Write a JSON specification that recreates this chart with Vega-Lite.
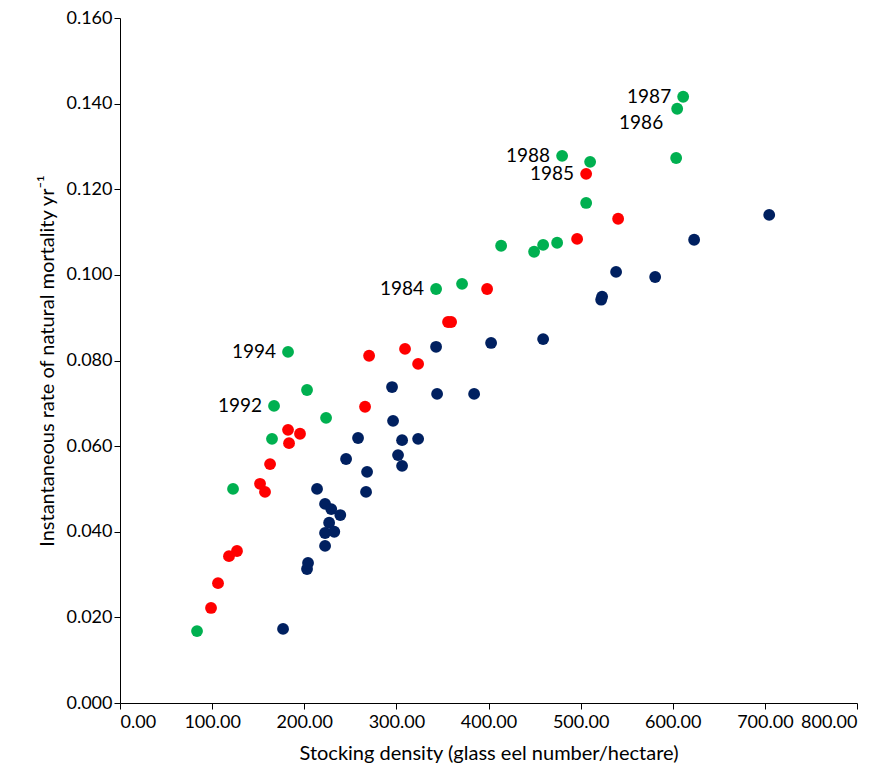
{"$schema":"https://vega.github.io/schema/vega-lite/v6.json","width":737,"height":685,"autosize":"none","padding":{"left":120,"top":18,"right":28,"bottom":78},"background":"white","config":{"view":{"stroke":null},"font":"Lato","axis":{"grid":false,"domainColor":"#000","tickColor":"#000","labelColor":"#000","titleColor":"#000","labelFontSize":18,"titleFontSize":20,"titleFontWeight":"normal","labelFont":"Lato","titleFont":"Lato","tickSize":6}},
"data":{"values":[
{"x":83.6,"y":0.0168,"g":"a"},{"x":122.7,"y":0.05,"g":"a"},{"x":165,"y":0.0617,"g":"a"},{"x":167.2,"y":0.0694,"g":"a","l":"1992"},{"x":182.4,"y":0.082,"g":"a","l":"1994"},{"x":203,"y":0.0731,"g":"a"},{"x":223.7,"y":0.0666,"g":"a"},{"x":343.1,"y":0.0967,"g":"a","l":"1984"},{"x":371.3,"y":0.0979,"g":"a"},{"x":413.7,"y":0.1068,"g":"a"},{"x":449.5,"y":0.1054,"g":"a"},{"x":459.3,"y":0.107,"g":"a"},{"x":474.5,"y":0.1075,"g":"a"},{"x":506,"y":0.1168,"g":"a"},{"x":479.9,"y":0.1278,"g":"a","l":"1988"},{"x":510.3,"y":0.1264,"g":"a"},{"x":603.7,"y":0.1273,"g":"a"},{"x":604.8,"y":0.1388,"g":"a","l2":"1986"},{"x":611.3,"y":0.1416,"g":"a","l":"1987"},
{"x":98.8,"y":0.0222,"g":"b"},{"x":106.4,"y":0.028,"g":"b"},{"x":118.3,"y":0.0343,"g":"b"},{"x":127,"y":0.0355,"g":"b"},{"x":152,"y":0.0512,"g":"b"},{"x":157.4,"y":0.0493,"g":"b"},{"x":162.9,"y":0.0558,"g":"b"},{"x":182.4,"y":0.0638,"g":"b"},{"x":183.5,"y":0.0607,"g":"b"},{"x":195.4,"y":0.0629,"g":"b"},{"x":266,"y":0.0692,"g":"b"},{"x":270.4,"y":0.0811,"g":"b"},{"x":309.4,"y":0.0827,"g":"b"},{"x":323.6,"y":0.0792,"g":"b"},{"x":356.1,"y":0.089,"g":"b"},{"x":359.4,"y":0.089,"g":"b"},{"x":398.5,"y":0.0967,"g":"b"},{"x":496.2,"y":0.1084,"g":"b"},{"x":506,"y":0.1236,"g":"b","l":"1985"},{"x":540.7,"y":0.1131,"g":"b"},
{"x":177,"y":0.0173,"g":"c"},{"x":203,"y":0.0313,"g":"c"},{"x":204.1,"y":0.0327,"g":"c"},{"x":213.9,"y":0.05,"g":"c"},{"x":222.6,"y":0.0367,"g":"c"},{"x":222.6,"y":0.0397,"g":"c"},{"x":222.6,"y":0.0465,"g":"c"},{"x":227,"y":0.0421,"g":"c"},{"x":229.3,"y":0.0453,"g":"c"},{"x":232.6,"y":0.04,"g":"c"},{"x":239.1,"y":0.0439,"g":"c"},{"x":245.4,"y":0.057,"g":"c"},{"x":258.4,"y":0.0619,"g":"c"},{"x":267.1,"y":0.0493,"g":"c"},{"x":268.2,"y":0.054,"g":"c"},{"x":295.3,"y":0.0738,"g":"c"},{"x":296.4,"y":0.0659,"g":"c"},{"x":301.8,"y":0.0579,"g":"c"},{"x":306.2,"y":0.0614,"g":"c"},{"x":306.2,"y":0.0554,"g":"c"},{"x":323.6,"y":0.0617,"g":"c"},{"x":343.1,"y":0.0832,"g":"c"},{"x":344.2,"y":0.0722,"g":"c"},{"x":384.4,"y":0.0722,"g":"c"},{"x":402.8,"y":0.0841,"g":"c"},{"x":459.3,"y":0.085,"g":"c"},{"x":522.3,"y":0.0942,"g":"c"},{"x":523.3,"y":0.0949,"g":"c"},{"x":538.5,"y":0.1007,"g":"c"},{"x":580.9,"y":0.0995,"g":"c"},{"x":623.2,"y":0.1082,"g":"c"},{"x":704.7,"y":0.114,"g":"c"}]},
"encoding":{"x":{"field":"x","type":"quantitative","scale":{"domain":[0,800],"nice":false},"axis":{"values":[0,100,200,300,400,500,600,700,800],"format":".2f","title":"Stocking density (glass eel number/hectare)","titlePadding":12,"labelPadding":4}},
"y":{"field":"y","type":"quantitative","scale":{"domain":[0,0.16],"nice":false},"axis":{"values":[0,0.02,0.04,0.06,0.08,0.1,0.12,0.14,0.16],"format":".3f","title":"Instantaneous rate of natural mortality yr⁻¹","titlePadding":8}}},
"layer":[
{"mark":{"type":"circle","size":140,"opacity":1},"encoding":{"color":{"field":"g","type":"nominal","scale":{"domain":["a","b","c"],"range":["#00b050","#ff0000","#002060"]},"legend":null}}},
{"transform":[{"filter":"datum.l"}],"mark":{"type":"text","align":"right","dx":-12,"fontSize":19,"font":"Lato","color":"#000"},"encoding":{"text":{"field":"l"}}},
{"transform":[{"filter":"datum.l2"}],"mark":{"type":"text","align":"right","dx":-14,"dy":14,"fontSize":19,"font":"Lato","color":"#000"},"encoding":{"text":{"field":"l2"}}}
]}
